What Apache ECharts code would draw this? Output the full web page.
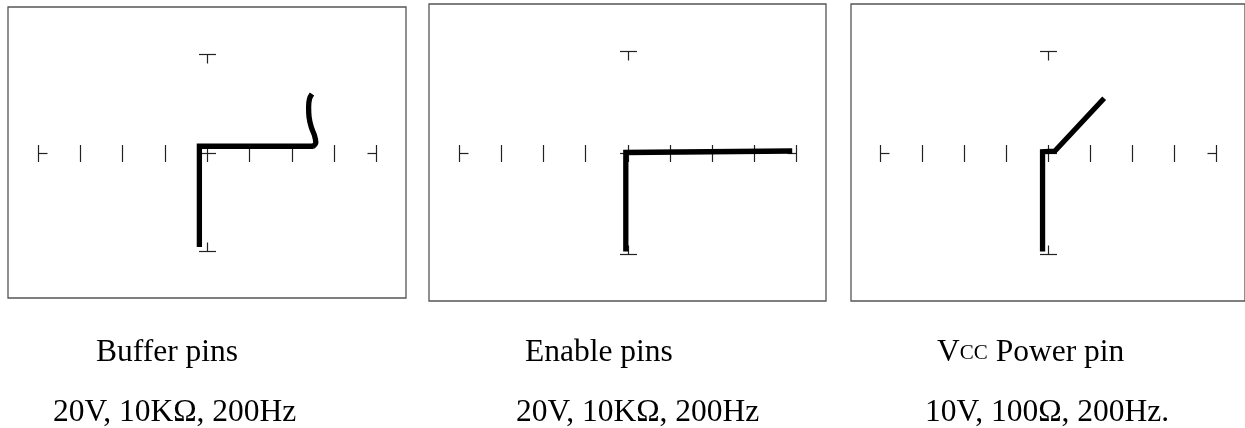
<!DOCTYPE html>
<html><head><meta charset="utf-8">
<script src="https://cdn.jsdelivr.net/npm/echarts@6/dist/echarts.min.js"></script>
<style>html,body{margin:0;padding:0;background:#fff;overflow:hidden}#c{width:1245px;height:428px}</style>
</head><body><div id="c"></div>
<script>
// horizontal graticule ticks (divisions) and vertical end markers (normalised current)
const xTicks = [-4, -3, -2, -1, 0, 1, 2, 3, 4];
const yMarks = [-1, 1];

// traces (x in divisions, y normalised to the top/bottom markers)
const bufferTrace = [[-0.18, -0.955], [-0.18, 0.063], [2.52, 0.063]];
const bufferCurve = [[2.50, 0.06], [2.57, 0.10], [2.54, 0.17], [2.46, 0.26], [2.41, 0.36], [2.40, 0.46], [2.42, 0.54], [2.48, 0.59]];
const enableTrace = [[-0.04, -0.98], [-0.04, 0.0], [3.90, 0.015]];
const vccTrace = [[-0.13, -0.98], [-0.13, 0.008], [0.16, 0.013], [1.34, 0.537]];

const titles = ['Buffer pins', 'Enable pins', 'VCC Power pin'];
const settings = ['20V, 10KΩ, 200Hz', '20V, 10KΩ, 200Hz', '10V, 100Ω, 200Hz.'];

const chart = echarts.init(document.getElementById('c'), null, {renderer: 'canvas'});

const grids = [
  {left: 8, top: 7, width: 398, height: 291},
  {left: 429, top: 4, width: 397, height: 297},
  {left: 851, top: 4, width: 395, height: 297}
];
const XH = 4.7, YH = 1.47;

// graticule items: [x, y, kind]
const first = xTicks[0], last = xTicks[xTicks.length - 1];
const graticule = xTicks.map(v => [v, 0, v === first ? 1 : v === last ? 2 : v === 0 ? 3 : 0])
  .concat(yMarks.map(v => [0, v, v > 0 ? 4 : 5]));

const TL = 8.5, ST = 9, TC = '#222';
function seg(x1, y1, x2, y2) {
  return {type: 'line', shape: {x1, y1, x2, y2}, style: {stroke: TC, lineWidth: 1.2}};
}
function renderGrat(params, api) {
  const p = api.coord([api.value(0), api.value(1)]);
  const k = api.value(2);
  const x = Math.round(p[0]) + 0.5, y = Math.round(p[1]) + 0.5;
  const ch = [];
  if (k <= 3) ch.push(seg(x, y - TL, x, y + TL));
  if (k === 1) ch.push(seg(x, y, x + ST, y));
  if (k === 2) ch.push(seg(x - ST, y, x, y));
  if (k === 3) ch.push(seg(x - TL, y, x + TL, y));
  if (k === 4) { ch.push(seg(x - TL, y, x + TL, y)); ch.push(seg(x, y, x, y + ST)); }
  if (k === 5) { ch.push(seg(x - TL, y, x + TL, y)); ch.push(seg(x, y - ST, x, y)); }
  return {type: 'group', children: ch};
}

const traceStyle = {color: '#000', width: 5.3, cap: 'butt', join: 'miter'};
const traces = [[bufferTrace, bufferCurve], [enableTrace], [vccTrace]];

const series = [];
grids.forEach((g, i) => {
  series.push({type: 'custom', xAxisIndex: i, yAxisIndex: i, data: graticule, renderItem: renderGrat, silent: true, z: 1, clip: false});
  traces[i].forEach((d, j) => {
    series.push({type: 'line', xAxisIndex: i, yAxisIndex: i, data: d, showSymbol: false, symbol: 'none',
      smooth: (i === 0 && j === 1) ? 0.4 : false, lineStyle: traceStyle, z: 3, silent: true, clip: false});
  });
});

const axisCommon = {type: 'value', axisLine: {show: false}, axisTick: {show: false}, axisLabel: {show: false}, splitLine: {show: false}};

const font = 'Liberation Serif, Times New Roman, serif';
const textX = [[96, 53], [525, 516], [937, 925]];
const graphics = [];
for (let i = 0; i < 3; i++) {
  if (i < 2) {
    graphics.push({type: 'text', left: textX[i][0], top: 337, style: {text: titles[i], font: '31.5px ' + font, fill: '#000'}});
  }
  graphics.push({type: 'text', left: textX[i][1], top: 397, style: {text: settings[i], font: '31.5px ' + font, fill: '#000'}});
}

chart.setOption({
  animation: false,
  backgroundColor: '#fff',
  grid: grids.map(g => Object.assign({show: true, borderColor: '#555', borderWidth: 1.3, backgroundColor: 'transparent'}, g)),
  xAxis: grids.map((g, i) => Object.assign({gridIndex: i, min: -XH, max: XH}, axisCommon)),
  yAxis: grids.map((g, i) => Object.assign({gridIndex: i, min: -YH, max: YH}, axisCommon)),
  series: series,
  graphic: graphics.concat([{
    type: 'text', left: textX[2][0], top: 337,
    style: {
      text: '{a|V}{b|CC}{a| Power pin}',
      rich: {
        a: {fontFamily: font, fontSize: 31.5, color: '#000'},
        b: {fontFamily: font, fontSize: 21, color: '#000'}
      }
    }
  }])
});
</script>
</body></html>
